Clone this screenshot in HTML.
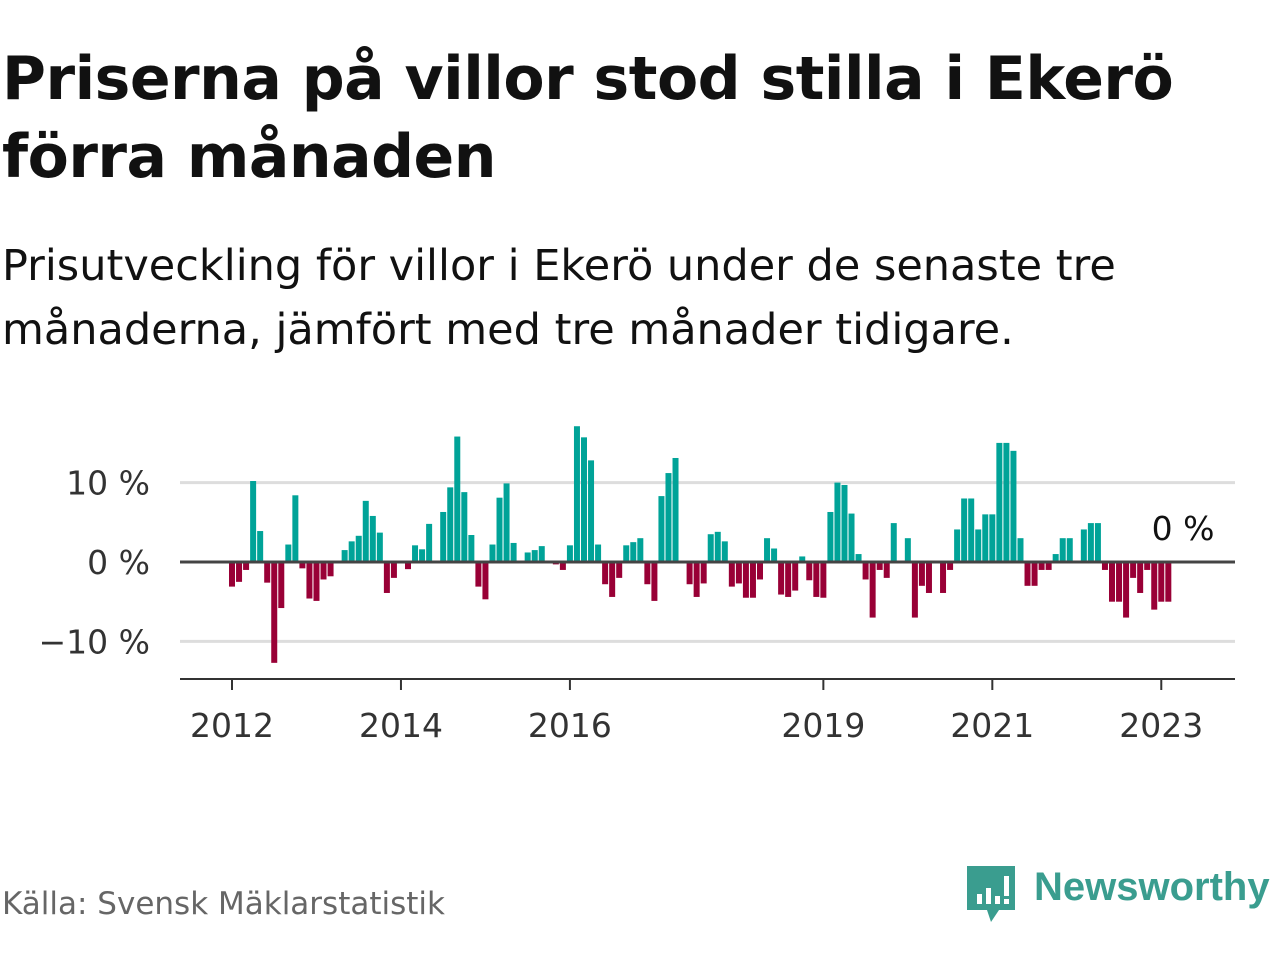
<!DOCTYPE html>
<html><head><meta charset="utf-8">
<style>
body{margin:0;width:1280px;height:960px;background:#fff;overflow:hidden;font-family:"DejaVu Sans","Liberation Sans",sans-serif;color:#111;}
#title{position:absolute;left:2px;top:40px;font-size:60px;font-weight:bold;line-height:78px;margin:0;letter-spacing:-0.5px;width:1280px;white-space:nowrap}
#sub{position:absolute;left:2px;top:234px;font-size:43px;line-height:64px;margin:0;width:1280px;white-space:nowrap}
#src{position:absolute;left:2px;top:886px;font-size:31px;color:#666}
#logo{position:absolute;left:965px;top:864px;}
#logo-text{position:absolute;left:1034px;top:865px;font-size:40px;color:#3a9d8f;font-weight:bold;font-family:"Liberation Sans",sans-serif}
svg{position:absolute;left:0;top:0}
</style></head><body>
<h1 id="title">Priserna på villor stod stilla i Ekerö<br>förra månaden</h1>
<p id="sub">Prisutveckling för villor i Ekerö under de senaste tre<br>månaderna, jämfört med tre månader tidigare.</p>
<svg id="chart" width="1280" height="960"></svg>
<div id="src">Källa: Svensk Mäklarstatistik</div>
<svg id="logo" width="52" height="62">
<path d="M2 2 H50 V46 H34 L26 58 L22 46 H2 Z" fill="#3a9d8f"/>
<rect x="12" y="30" width="5" height="10" fill="#fff"/><rect x="21" y="24" width="5" height="16" fill="#fff"/><rect x="30" y="32" width="5" height="8" fill="#fff"/><rect x="39" y="12" width="5" height="20" fill="#fff"/><rect x="39" y="35" width="5" height="5" fill="#fff"/>
</svg>
<div id="logo-text">Newsworthy</div>
<script>
const values=[-3.1,-2.5,-1.0,10.2,3.9,-2.6,-12.7,-5.8,2.2,8.4,-0.8,-4.6,-4.9,-2.2,-1.8,0,
1.5,2.6,3.3,7.7,5.8,3.7,-3.9,-2.0,0,-0.9,2.1,1.6,4.8,0,6.3,9.4,15.8,8.8,3.4,-3.1,-4.7,2.2,8.1,9.9,2.4,0,
1.2,1.5,2.0,0,-0.3,-1.0,2.1,17.1,15.7,12.8,2.2,-2.8,-4.4,-2.0,2.1,2.5,3.0,-2.8,-4.9,8.3,11.2,13.1,0,
-2.8,-4.4,-2.7,3.5,3.8,2.6,-3.1,-2.7,-4.5,-4.5,-2.2,3.0,1.7,-4.1,-4.4,-3.6,0.7,-2.3,-4.4,-4.5,
6.3,10.0,9.7,6.1,1.0,-2.2,-7.0,-1.0,-2.0,4.9,0,3.0,-7.0,-3.0,-3.9,0,-3.9,-1.0,4.1,8.0,8.0,4.1,6.0,6.0,
15.0,15.0,14.0,3.0,-3.0,-3.0,-1.0,-1.0,1.0,3.0,3.0,0,4.1,4.9,4.9,-1.0,-5.0,-5.0,-7.0,-2.0,-3.9,-1.0,-6.0,-5.0,-5.0];
const yTicks=[10,0,-10];
const yTickLabels=["10 %","0 %","\u221210 %"];
const xTickIdx=[0,24,48,84,108,132];
const xTickLabels=["2012","2014","2016","2019","2021","2023"];
const lastLabel="0 %";
const svg=document.getElementById('chart');const NS='http://www.w3.org/2000/svg';
const x0=232,step=7.04,y0=562,ppu=7.94;
const xs=i=>x0+i*step, ys=v=>y0-v*ppu;
function mk(t,a){const e=document.createElementNS(NS,t);for(const k in a)e.setAttribute(k,a[k]);svg.appendChild(e);return e;}
yTicks.forEach((v,k)=>{
 if(v!==0){const g=mk('line',{x1:180,x2:1235,y1:ys(v),y2:ys(v),stroke:'#ddd','stroke-width':3});
 
 }
 const t=mk('text',{x:150,y:ys(v)+12,'text-anchor':'end','font-size':33,fill:'#333','font-family':'DejaVu Sans, sans-serif'});
 t.textContent=yTickLabels[k];
 
 
});
values.forEach((v,i)=>{if(v===0)return;
 const r=mk('rect',{x:xs(i)-3,y:v>0?ys(v):y0,width:6,height:Math.abs(v)*ppu,fill:v>0?'#00a398':'#990036'});
 
 
});
const z=mk('line',{x1:180,x2:1235,y1:y0,y2:y0,stroke:'#444','stroke-width':3});


const ax=mk('line',{x1:180,x2:1235,y1:679,y2:679,stroke:'#333','stroke-width':2});


xTickIdx.forEach((idx,k)=>{
 const l=mk('line',{x1:xs(idx),x2:xs(idx),y1:679,y2:690,stroke:'#333','stroke-width':2});
 
 
 const t=mk('text',{x:xs(idx),y:737,'text-anchor':'middle','font-size':33,fill:'#333','font-family':'DejaVu Sans, sans-serif'});
 t.textContent=xTickLabels[k];
 
 
});
const ll=mk('text',{x:1183,y:540,'text-anchor':'middle','font-size':33,fill:'#111','font-family':'DejaVu Sans, sans-serif'});
ll.textContent=lastLabel;


</script>
</body></html>
